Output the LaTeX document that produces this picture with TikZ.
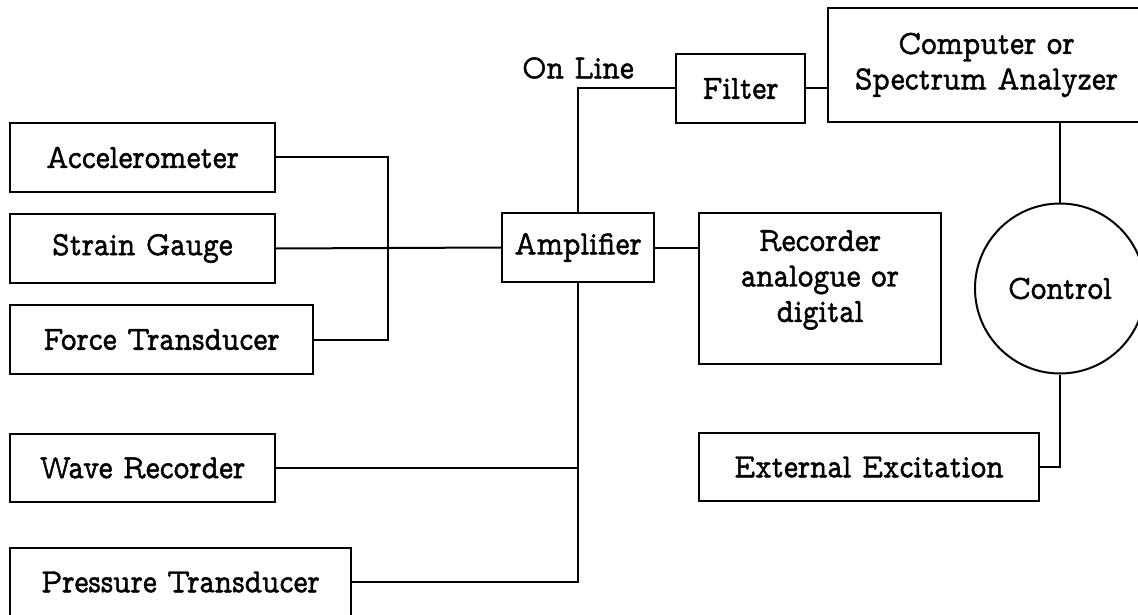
\documentclass[tikz,border=0pt]{standalone}
\usepackage{fontspec}
\newfontfamily\plotfont{lmmonoprop10-regular.otf}[FakeBold=1.3,FakeStretch=0.88]
\begin{document}
\begin{tikzpicture}[x=1pt,y=-1pt,
  every node/.style={font=\plotfont\fontsize{34}{35.5}\selectfont},
  blk/.style={draw, rectangle, inner sep=0pt, line width=2pt, align=center},
  wire/.style={line width=2pt},
  txt/.style={inner sep=0pt, align=center}]
\useasboundingbox (0,0) rectangle (1138,615);
\clip (0,0) rectangle (1138,615);
% left sensors
\node[blk, minimum width=265, minimum height=69] (acc) at (142.5,157.5) {Accelerometer};
\node[blk, minimum width=265, minimum height=69] (strain) at (142.5,248.5) {Strain Gauge};
\node[blk, minimum width=303, minimum height=69] (force) at (161.5,339.5) {Force Transducer};
\node[blk, minimum width=265, minimum height=68] (wave) at (142.5,468) {Wave Recorder};
\node[blk, minimum width=341, minimum height=68] (press) at (180.5,582) {Pressure Transducer};
% middle
\node[blk, minimum width=152, minimum height=69] (amp) at (578,247.5) {Amplifier};
\node[blk, minimum width=129, minimum height=69] (filter) at (740.5,88.5) {Filter};
\node[txt] (online) at (578,68) {On Line};
\node[blk, minimum width=242, minimum height=151] (rec) at (820,288.5) {};
\node[txt] (rectext) at (820,280) {Recorder\\analogue or\\digital};
% right
\node[blk, minimum width=317, minimum height=114] (comp) at (986.5,65) {Computer or\\Spectrum Analyzer};
\node[blk, circle, minimum size=170] (ctrl) at (1060,288.5) {Control};
\node[blk, minimum width=340, minimum height=68] (ext) at (869,467) {External Excitation};
\coordinate (busA) at (388,0);
\coordinate (busB) at (578,0);
% connectors
\draw[wire] (acc.east) -- (acc.east -| busA) -- (force.east -| busA) -- (force.east);
\draw[wire] (strain.east) -- (amp.west);
\draw[wire] (amp.north) -- (amp.north |- filter.west) -- (filter.west);
\draw[wire] (filter.east) -- (filter.east -| comp.west);
\draw[wire] (amp.east) -- (amp.east -| rec.west);
\draw[wire] (amp.south) -- (amp.south |- press.east) -- (press.east);
\draw[wire] (wave.east) -- (wave.east -| busB);
\draw[wire] (ctrl.north) -- (ctrl.north |- comp.south);
\draw[wire] (ext.east) -- (ext.east -| ctrl.south) -- (ctrl.south);
\end{tikzpicture}
\end{document}
